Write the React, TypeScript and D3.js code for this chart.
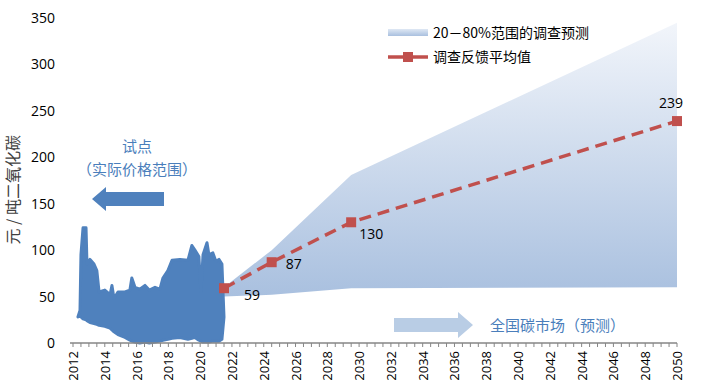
import React, { useEffect, useRef } from 'react'
import * as d3 from 'd3'

// historic pilot prices (upper and lower envelope)
const histYears = [2012.31, 2012.44, 2012.5, 2012.63, 2012.82, 2012.88, 2013.07, 2013.32, 2013.5, 2013.64, 2014.0, 2014.33, 2014.45, 2014.58, 2014.83, 2015.27, 2015.58, 2015.7, 2015.9, 2016.2, 2016.53, 2016.8, 2017.16, 2017.47, 2017.66, 2017.97, 2018.23, 2018.73, 2019.23, 2019.48, 2019.67, 2019.92, 2020.05, 2020.18, 2020.43, 2020.55, 2020.8, 2020.99, 2021.18, 2021.37, 2021.5]
const histHigh = [28, 35, 95, 124, 124, 85, 90, 85, 78, 55, 57, 52, 62, 48, 55, 55, 57, 70, 60, 58, 62, 57, 60, 58, 70, 78, 89, 90, 89, 105, 100, 93, 55, 95, 108, 95, 97, 88, 90, 85, 28]
const histLow = [28, 29, 28, 26, 25, 24, 22, 21, 20, 19, 18, 16, 14, 12, 9, 6, 3, 2, 1, 0, 1, 0, 1, 2, 3, 4, 5, 6, 4, 5, 6, 3, 2, 1, 1, 1, 2, 2, 2, 4, 28]

// survey forecast
const bandYears = [2021.5, 2024.5, 2029.5, 2050]
const bandLow = [50, 52, 59, 60]
const bandHigh = [60, 100, 181, 345]
const meanYears = [2021.5, 2024.5, 2029.5, 2050]
const meanValues = [59, 87, 130, 239]

const yTicks = [0, 50, 100, 150, 200, 250, 300, 350]
const xTicks = d3.range(2012, 2051, 2)

const BLUE = '#4f81bd'
const RED = '#c0504d'
const FONT = '"Open Sans", "Noto Sans CJK SC", sans-serif'
const CJK = '"Noto Sans CJK SC", sans-serif'

export default function App() {
  const ref = useRef<SVGSVGElement>(null)

  useEffect(() => {
    const svg = d3.select(ref.current)
    svg.selectAll('*').remove()

    const x = d3.scaleLinear().domain([2012, 2050]).range([73, 677])
    const y = d3.scaleLinear().domain([0, 350]).range([343, 18])

    const defs = svg.append('defs')
    const g1 = defs.append('linearGradient').attr('id', 'band')
      .attr('gradientUnits', 'userSpaceOnUse')
      .attr('x1', 0).attr('y1', y(350)).attr('x2', 0).attr('y2', y(50))
    g1.append('stop').attr('offset', 0).attr('stop-color', '#f3f6fb')
    g1.append('stop').attr('offset', 1).attr('stop-color', '#a9c0df')
    const g2 = defs.append('linearGradient').attr('id', 'legendBand')
      .attr('x1', 0).attr('y1', 0).attr('x2', 0).attr('y2', 1)
    g2.append('stop').attr('offset', 0).attr('stop-color', '#dfe8f4')
    g2.append('stop').attr('offset', 1).attr('stop-color', '#a9c0df')

    // forecast band
    const band = d3.area<number>()
      .x((d) => x(bandYears[d]))
      .y0((d) => y(bandLow[d]))
      .y1((d) => y(bandHigh[d]))
    svg.append('path').datum(d3.range(bandYears.length))
      .attr('fill', 'url(#band)').attr('d', band)

    // historic range
    const hist = d3.area<number>()
      .x((d) => x(histYears[d]))
      .y0((d) => y(histLow[d]))
      .y1((d) => y(histHigh[d]))
    svg.append('path').datum(d3.range(histYears.length))
      .attr('fill', BLUE).attr('stroke', BLUE).attr('stroke-width', 3)
      .attr('stroke-linejoin', 'round').attr('d', hist)

    // x axis
    svg.append('line').attr('x1', 70).attr('x2', x(2050)).attr('y1', y(0)).attr('y2', y(0))
      .attr('stroke', '#868686').attr('stroke-width', 1.5)
    svg.append('g').selectAll('line').data(d3.range(2012, 2050.01, 0.5)).join('line')
      .attr('x1', (d) => x(d)).attr('x2', (d) => x(d))
      .attr('y1', y(0)).attr('y2', y(0) + 4)
      .attr('stroke', '#868686')
    svg.append('g').selectAll('text').data(xTicks).join('text')
      .attr('transform', (d) => `translate(${x(d) + 5},${y(0) + 8}) rotate(-90)`)
      .attr('text-anchor', 'end').attr('font-family', FONT).attr('font-size', 13)
      .attr('fill', '#000').text((d) => d)

    // y axis labels
    svg.append('g').selectAll('text').data(yTicks).join('text')
      .attr('x', 55).attr('y', (d) => y(d) + 5)
      .attr('text-anchor', 'end').attr('font-family', FONT).attr('font-size', 14)
      .attr('fill', '#000').text((d) => d)
    svg.append('text')
      .attr('transform', `translate(19,${y(165)}) rotate(-90)`)
      .attr('text-anchor', 'middle').attr('font-family', CJK).attr('font-size', 16)
      .attr('fill', '#404040').text('元 / 吨二氧化碳')

    // survey mean
    const meanLine = d3.line<number>()
      .x((d) => x(meanYears[d])).y((d) => y(meanValues[d]))
    svg.append('path').datum(d3.range(meanYears.length))
      .attr('fill', 'none').attr('stroke', RED).attr('stroke-width', 3.5)
      .attr('stroke-dasharray', '12,7').attr('d', meanLine)
    svg.append('g').selectAll('rect').data(d3.range(meanYears.length)).join('rect')
      .attr('x', (d) => x(meanYears[d]) - 5).attr('y', (d) => y(meanValues[d]) - 5)
      .attr('width', 10).attr('height', 10).attr('fill', RED)
    const labelDx = [20, 14, 8, -18]
    const labelDy = [12, 7, 17, -13]
    svg.append('g').selectAll('text').data(d3.range(meanYears.length)).join('text')
      .attr('x', (d) => x(meanYears[d]) + labelDx[d])
      .attr('y', (d) => y(meanValues[d]) + labelDy[d])
      .attr('font-family', FONT).attr('font-size', 14).attr('fill', '#000')
      .text((d) => meanValues[d])

    // legend
    svg.append('rect').attr('x', 388).attr('y', 29).attr('width', 40).attr('height', 7)
      .attr('fill', 'url(#legendBand)')
    svg.append('text').attr('x', 433).attr('y', 38).attr('font-family', CJK)
      .attr('font-size', 14).attr('fill', '#000').text('20－80%范围的调查预测')
    svg.append('line').attr('x1', 388).attr('x2', 428).attr('y1', 57).attr('y2', 57)
      .attr('stroke', RED).attr('stroke-width', 3.5)
    svg.append('rect').attr('x', 403).attr('y', 52).attr('width', 10).attr('height', 10).attr('fill', RED)
    svg.append('text').attr('x', 433).attr('y', 62).attr('font-family', CJK)
      .attr('font-size', 14).attr('fill', '#000').text('调查反馈平均值')

    // annotations
    svg.append('text').attr('x', 137).attr('y', 152).attr('text-anchor', 'middle')
      .attr('font-family', CJK).attr('font-size', 15).attr('fill', '#4a7ebb').text('试点')
    svg.append('text').attr('x', 137).attr('y', 175).attr('text-anchor', 'middle')
      .attr('font-family', CJK).attr('font-size', 15).attr('fill', '#4a7ebb').text('（实际价格范围）')
    svg.append('path')
      .attr('d', 'M92,199 L106,187 L106,192 L164,192 L164,206 L106,206 L106,211 Z')
      .attr('fill', BLUE)
    svg.append('path')
      .attr('d', 'M394,318 L458,318 L458,312 L473,325 L458,338 L458,332 L394,332 Z')
      .attr('fill', '#b9cde5')
    svg.append('text').attr('x', 490).attr('y', 331)
      .attr('font-family', CJK).attr('font-size', 15).attr('fill', '#4a7ebb').text('全国碳市场（预测）')
  }, [])

  return <svg ref={ref} width={701} height={391} style={{ position: 'absolute', left: 0, top: 0, background: '#fff' }} />
}
